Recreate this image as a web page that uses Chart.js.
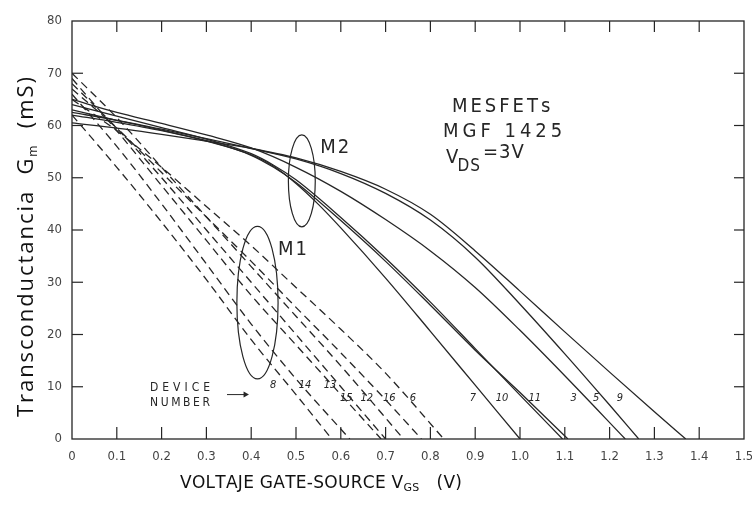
<!DOCTYPE html>
<html>
<head>
<meta charset="utf-8">
<script src="https://cdn.jsdelivr.net/npm/chart.js@4.4.1/dist/chart.umd.min.js"></script>
<style>
  html, body { margin: 0; padding: 0; background: #fff; }
</style>
</head>
<body>
<canvas id="gm" width="752" height="521"></canvas>
<script>
// Gm(Vgs) per device, [Vgs in V, Gm in mS]
// M1 group (dashed)
const dev8  = [[0, 62], [0.1, 52], [0.2, 41.5], [0.3, 30.5], [0.4, 19], [0.5, 8.5], [0.58, 0]];
const dev14 = [[0, 66], [0.1, 56], [0.2, 45], [0.3, 33.5], [0.4, 22], [0.5, 11.5], [0.62, 0]];
const dev13 = [[0, 69], [0.1, 59], [0.2, 48.5], [0.3, 38], [0.4, 27.5], [0.5, 18], [0.6, 8.5], [0.69, 0]];
const dev15 = [[0, 68], [0.1, 59.5], [0.2, 50], [0.3, 40], [0.4, 30], [0.5, 20], [0.6, 10], [0.70, 0]];
const dev12 = [[0, 70], [0.1, 61.5], [0.2, 52], [0.3, 42.5], [0.4, 33], [0.5, 23.5], [0.6, 14], [0.74, 0]];
const dev16 = [[0, 67], [0.1, 59.5], [0.2, 51], [0.3, 42.5], [0.4, 34], [0.5, 25.2], [0.6, 16.5], [0.7, 7.5], [0.78, 0]];
const dev6  = [[0, 65], [0.1, 59], [0.2, 52], [0.3, 44.5], [0.4, 37], [0.5, 29], [0.6, 21], [0.7, 12.6], [0.83, 0]];
// M2 group (solid)
const dev7  = [[0, 62], [0.1, 60.6], [0.2, 59], [0.3, 57], [0.4, 54.4], [0.45, 52.2], [0.5, 48.9], [0.55, 44.9], [0.6, 40.4], [0.7, 30.8], [0.8, 20.6], [0.9, 10.3], [1.0, 0]];
const dev10 = [[0, 64], [0.1, 61.8], [0.2, 59.6], [0.3, 57.4], [0.4, 54.6], [0.45, 52.4], [0.5, 49.6], [0.6, 42.4], [0.7, 34.6], [0.8, 26.2], [0.9, 17.3], [1.0, 8.4], [1.095, 0]];
const dev11 = [[0, 63], [0.1, 61], [0.2, 59.1], [0.3, 57.1], [0.4, 54.3], [0.45, 52], [0.5, 49.1], [0.6, 41.8], [0.7, 34], [0.8, 25.6], [0.9, 17], [1.0, 8.9], [1.107, 0]];
const dev3  = [[0, 65], [0.1, 62.5], [0.2, 60.4], [0.3, 58.2], [0.4, 55.7], [0.5, 52], [0.6, 47.4], [0.7, 42], [0.8, 36], [0.9, 29], [1.0, 20.8], [1.1, 12.1], [1.235, 0]];
const dev5  = [[0, 62.5], [0.1, 61], [0.2, 59.3], [0.3, 57.5], [0.4, 55.6], [0.5, 53.6], [0.6, 50.8], [0.7, 47], [0.8, 41.9], [0.9, 34.8], [1.0, 25.8], [1.1, 16.3], [1.2, 6.5], [1.265, 0]];
const dev9  = [[0, 60.5], [0.1, 59.5], [0.2, 58.3], [0.3, 57], [0.4, 55.6], [0.5, 53.8], [0.6, 51.2], [0.7, 47.8], [0.8, 43], [0.9, 36], [1.0, 28.3], [1.1, 20.5], [1.2, 12.8], [1.3, 5.2], [1.37, 0]];

const m1Names = ["8", "14", "13", "15", "12", "16", "6"];
const m1Curves = [dev8, dev14, dev13, dev15, dev12, dev16, dev6];
const m2Names = ["7", "10", "11", "3", "5", "9"];
const m2Curves = [dev7, dev10, dev11, dev3, dev5, dev9];

const X_MIN = 0, X_MAX = 1.5, X_STEP = 0.1;
const Y_MIN = 0, Y_MAX = 80, Y_STEP = 10;

const INK = "#262626";
const COND = "'DejaVu Sans Condensed', 'DejaVu Sans', sans-serif";

const toPts = c => c.map(p => ({ x: p[0], y: p[1] }));
const datasets = [
  ...m1Curves.map((c, i) => ({ label: "M1 · " + m1Names[i], data: toPts(c), borderDash: [8, 5] })),
  ...m2Curves.map((c, i) => ({ label: "M2 · " + m2Names[i], data: toPts(c) })),
].map(d => Object.assign(d, {
  showLine: true, borderColor: INK, borderWidth: 1.3, pointRadius: 0,
  cubicInterpolationMode: "monotone", fill: false,
}));

// ---- text helpers: hand-spaced runs so subscripts can be mixed in ----
function runWidth(ctx, runs, sp) {
  let w = 0;
  runs.forEach(r => { ctx.font = r.font; for (const ch of r.t) w += ctx.measureText(ch).width + sp; });
  return w - sp;
}
function drawRuns(ctx, runs, x, y, sp) {
  runs.forEach(r => {
    ctx.font = r.font;
    for (const ch of r.t) { ctx.fillText(ch, x, y + (r.dy || 0)); x += ctx.measureText(ch).width + sp; }
  });
  return x;
}
function fitSpacing(ctx, runs, target) {
  const n = runs.reduce((a, r) => a + [...r.t].length, 0);
  return (target - runWidth(ctx, runs, 0)) / (n - 1);
}

const overlay = {
  id: "overlay",
  afterDatasetsDraw(chart) {
    const { ctx, chartArea: a, scales: { x, y } } = chart;
    const px = v => x.getPixelForValue(v), py = g => y.getPixelForValue(g);
    const seg = (x1, y1, x2, y2) => { ctx.beginPath(); ctx.moveTo(x1, y1); ctx.lineTo(x2, y2); ctx.stroke(); };
    ctx.save();
    ctx.strokeStyle = INK;
    ctx.fillStyle = INK;

    // plot frame with inward ticks on every side
    ctx.lineWidth = 1.3;
    ctx.strokeRect(a.left, a.top, a.right - a.left, a.bottom - a.top);
    ctx.lineWidth = 1.2;
    x.ticks.forEach(t => {
      if (t.value <= X_MIN || t.value >= X_MAX - 1e-9) return;
      const X = px(t.value);
      seg(X, a.bottom, X, a.bottom - 12);
      seg(X, a.top, X, a.top + 11);
    });
    y.ticks.forEach(t => {
      if (t.value <= Y_MIN || t.value >= Y_MAX) return;
      const Y = py(t.value);
      seg(a.left, Y, a.left + 11, Y);
      seg(a.right, Y, a.right - 10, Y);
    });

    // group ellipses
    const ell = (v, g, dv, dg) => {
      const cx = px(v), cy = py(g);
      ctx.beginPath();
      ctx.ellipse(cx, cy, Math.abs(px(v + dv) - cx), Math.abs(py(g + dg) - cy), 0, 0, Math.PI * 2);
      ctx.stroke();
    };
    ctx.lineWidth = 1.2;
    ell(0.414, 26.1, 0.046, 14.6);
    ell(0.513, 49.4, 0.030, 8.8);

    ctx.textBaseline = "alphabetic";
    ctx.textAlign = "left";
    const big = "20px " + COND;
    drawRuns(ctx, [{ t: "M1", font: big }], px(0.46), py(35.2), 2);
    drawRuns(ctx, [{ t: "M2", font: big }], px(0.554), py(54.7), 2);

    drawRuns(ctx, [{ t: "MESFETs", font: big }], px(0.848), py(62.6), 3);
    drawRuns(ctx, [{ t: "MGF 1425", font: big }], px(0.828), py(57.8), 4);
    let cx = drawRuns(ctx, [{ t: "V", font: big }], px(0.835), py(52.8), 0);
    cx = drawRuns(ctx, [{ t: "DS", font: "17px " + COND, dy: 8 }], cx - 1, py(52.8), 1);
    drawRuns(ctx, [{ t: "=3V", font: big }], cx + 2, py(53.8), 1);

    // device number key
    const small = "12px " + COND;
    drawRuns(ctx, [{ t: "DEVICE", font: small }], px(0.174), py(9.2), 4);
    drawRuns(ctx, [{ t: "NUMBER", font: small }], px(0.174), py(6.3), 2.6);
    ctx.lineWidth = 1;
    seg(px(0.346), py(8.5), px(0.39), py(8.5));
    ctx.beginPath();
    ctx.moveTo(px(0.395), py(8.5));
    ctx.lineTo(px(0.383), py(8.5) - 3);
    ctx.lineTo(px(0.383), py(8.5) + 3);
    ctx.closePath();
    ctx.fill();

    ctx.textAlign = "center";
    ctx.textBaseline = "middle";
    ctx.font = "italic 11px " + COND;
    const tag = (t, v, g) => ctx.fillText(t, px(v), py(g));
    tag("8", 0.449, 10.3); tag("14", 0.52, 10.3); tag("13", 0.576, 10.3);
    tag("15", 0.612, 7.8); tag("12", 0.658, 7.8); tag("16", 0.708, 7.8); tag("6", 0.761, 7.8);
    tag("7", 0.895, 7.8); tag("10", 0.96, 7.8); tag("11", 1.033, 7.8);
    tag("3", 1.12, 7.8); tag("5", 1.17, 7.8); tag("9", 1.223, 7.8);

    // axis titles
    ctx.textAlign = "left";
    ctx.textBaseline = "alphabetic";
    ctx.fillStyle = "#111";
    const tf = "17px 'DejaVu Sans', sans-serif";
    const xRuns = [{ t: "VOLTAJE GATE-SOURCE V", font: tf }, { t: "GS", font: "11px 'DejaVu Sans', sans-serif", dy: 3 },
                   { t: "   (V)", font: tf }];
    drawRuns(ctx, xRuns, 180, 488, fitSpacing(ctx, xRuns, 282));

    const yf = "22px 'Open Sans', sans-serif";
    const yRuns = [{ t: "Transconductancia  G", font: yf },
                   { t: "m", font: "12px 'Open Sans', sans-serif", dy: 4 },
                   { t: "  (mS)", font: yf }];
    const ys = fitSpacing(ctx, yRuns, 340);
    ctx.translate(33, 417);
    ctx.rotate(-Math.PI / 2);
    drawRuns(ctx, yRuns, 0, 0, ys);
    ctx.restore();
  }
};

new Chart(document.getElementById("gm"), {
  type: "scatter",
  data: { datasets },
  options: {
    responsive: false,
    animation: false,
    devicePixelRatio: 1,
    layout: { padding: { top: 21, right: 8, left: 0, bottom: 0 } },
    plugins: { legend: { display: false }, tooltip: { enabled: false } },
    scales: {
      x: {
        type: "linear", min: X_MIN, max: X_MAX,
        afterFit: s => { s.height = 82; s.paddingLeft = 0; s.paddingRight = 0; },
        grid: { display: false, drawTicks: false },
        border: { display: false },
        ticks: {
          stepSize: X_STEP, padding: 10, color: "#444", maxRotation: 0,
          font: { size: 13, family: COND },
          callback: v => (Math.abs(v) < 1e-9 ? "0" : v.toFixed(1)),
        },
      },
      y: {
        type: "linear", min: Y_MIN, max: Y_MAX,
        afterFit: s => { s.width = 72; s.paddingTop = 0; s.paddingBottom = 0; },
        grid: { display: false, drawTicks: false },
        border: { display: false },
        ticks: { stepSize: Y_STEP, padding: 10, color: "#444", font: { size: 13, family: COND } },
      },
    },
  },
  plugins: [overlay],
});
</script>
</body>
</html>
